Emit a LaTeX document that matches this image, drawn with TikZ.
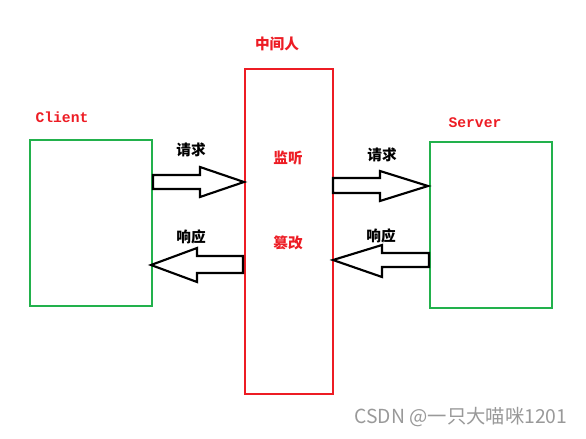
\documentclass[tikz,border=0pt]{standalone}
\usepackage{fontspec}
\newfontfamily\cjk{Noto Sans CJK SC}
\newfontfamily\monof{Liberation Mono}
\definecolor{pgreen}{RGB}{34,177,76}
\definecolor{pred}{RGB}{237,28,36}
\tikzset{
  box/.style={draw, line width=1.5pt},
  fatarrow/.style={draw=black, fill=white, line width=1.6pt, line join=miter},
  lbl/.style={font=\cjk\bfseries\fontsize{11}{13}\selectfont, text=black, inner sep=0pt},
  redlbl/.style={font=\cjk\bfseries\fontsize{11}{13}\selectfont, text=pred, inner sep=0pt},
  monolbl/.style={font=\monof\bfseries\fontsize{11}{13}\selectfont, text=pred, inner sep=0pt}
}
\begin{document}
\begin{tikzpicture}[x=0.75pt,y=-0.75pt]
\useasboundingbox (0,0) rectangle (586,439);
% boxes
\node[box, draw=pgreen, minimum width=122*0.75pt, minimum height=166*0.75pt, anchor=north west, inner sep=0pt] (client) at (29,139) {};
\node[box, draw=pred, minimum width=88*0.75pt, minimum height=325*0.75pt, anchor=north west, inner sep=0pt] (mitm) at (244,68) {};
\node[box, draw=pgreen, minimum width=122*0.75pt, minimum height=166*0.75pt, anchor=north west, inner sep=0pt] (server) at (429,141) {};
% labels
\node[monolbl] (tclient) at (62,117) {Client};
\node[monolbl] (tserver) at (475,123) {Server};
\node[redlbl] (tmitm) at (277,44) {中间人};
\node[redlbl] (tlisten) at (288,158) {监听};
\node[redlbl] (ttamper) at (288,243) {篡改};
\node[lbl] (req1) at (191,150) {请求};
\node[lbl] (resp1) at (191,237) {响应};
\node[lbl] (req2) at (382,155) {请求};
\node[lbl] (resp2) at (381,236) {响应};
% fat arrows
\draw[fatarrow] (153,175) -- (200,175) -- (200,167) -- (244,182) -- (200,197) -- (200,189) -- (153,189) -- cycle;
\draw[fatarrow] (243,256) -- (197,256) -- (197,248) -- (151,265) -- (197,282) -- (197,273) -- (243,273) -- cycle;
\draw[fatarrow] (333,178) -- (380,178) -- (380,171) -- (428,186) -- (380,201) -- (380,193) -- (333,193) -- cycle;
\draw[fatarrow] (429,253) -- (382,253) -- (382,245) -- (333,260) -- (382,277) -- (382,267) -- (429,267) -- cycle;
% watermark
\node[font=\cjk\fontsize{14.5}{16}\selectfont, text=black!40, inner sep=0pt] (wm) at (461,417) {CSDN @一只大喵咪1201};
\end{tikzpicture}
\end{document}
